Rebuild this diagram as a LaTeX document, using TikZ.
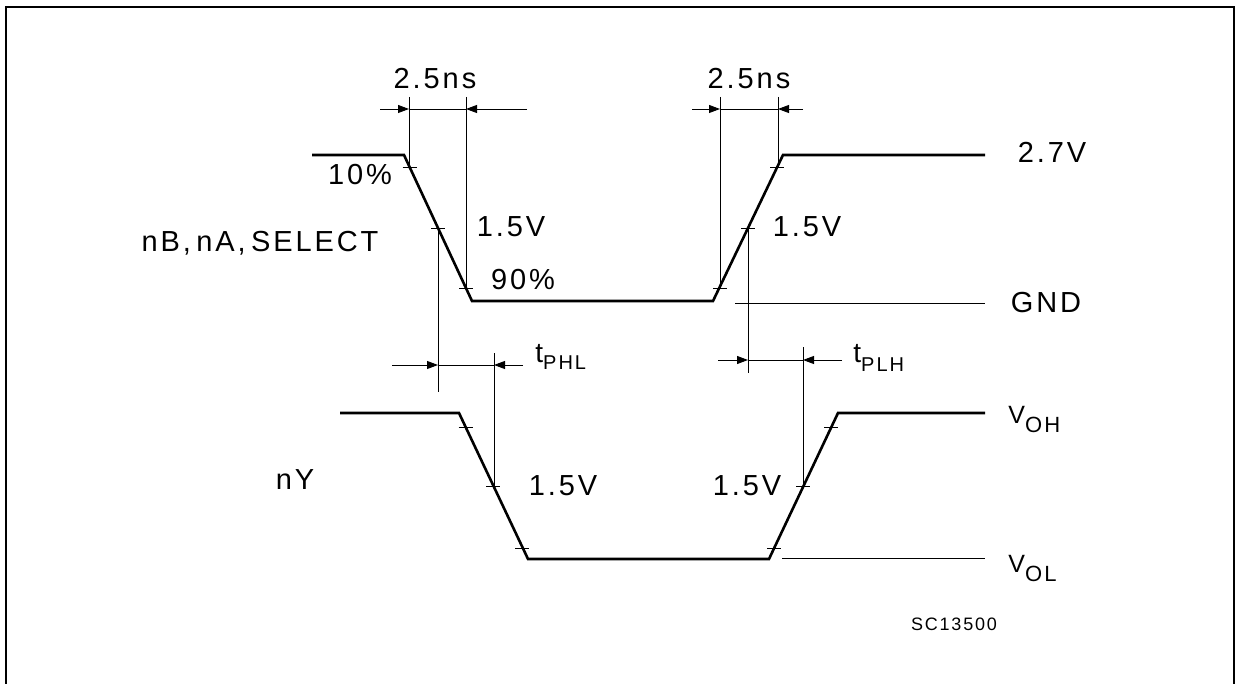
\documentclass[tikz,border=0pt]{standalone}
\usepackage{fontspec}
\setmainfont{Liberation Sans}[LetterSpace=10,WordSpace=0.5]
\usetikzlibrary{arrows.meta}
\begin{document}
\begin{tikzpicture}[x=0.5pt,y=-0.5pt,
    wave/.style={line width=1.3pt,line join=miter},
    thinline/.style={line width=0.45pt},
    dimline/.style={thinline,-{Triangle[length=5.5pt,width=4pt]}},
    lbl/.style={inner sep=0pt,anchor=base,font=\fontsize{14.5}{16}\selectfont},
    sublbl/.style={lbl,anchor=base west,font=\fontsize{14}{16}\selectfont},
    lvllbl/.style={lbl,anchor=base west,font=\fontsize{12.5}{14}\selectfont},
  ]
  \useasboundingbox (0,0) rectangle (1237,684);
  \draw[line width=1pt] (6,700) -- (6,7) -- (1234,7) -- (1234,700);

  % input signal
  \draw[wave] (312,155) -- (404,155) -- (472,301) -- (713,301) -- (783,155) -- (985,155);
  \draw[thinline] (735,303) -- (985,303);
  % output signal
  \draw[wave] (340,413) -- (459,413) -- (528,559) -- (769,559) -- (838,413) -- (985,413);
  \draw[thinline] (782,558) -- (985,558);

  % level marks on the edges
  \foreach \x/\y in {409.6/167, 438/228, 466/288, 720/288, 748/228, 777/167,
                     465.6/427, 493/486, 522/548, 774/548, 803/486, 831/427}
    \draw[thinline] (\x-7,\y) -- (\x+7,\y);

  % extension lines
  \draw[thinline] (409,97) -- (409,167);
  \draw[thinline] (466,97) -- (466,288);
  \draw[thinline] (720,97) -- (720,288);
  \draw[thinline] (778,97) -- (778,167);
  \draw[thinline] (438,228) -- (438,392);
  \draw[thinline] (748,228) -- (748,373);
  \draw[thinline] (494,353) -- (494,486);
  \draw[thinline] (803,347) -- (803,486);

  % dimension arrows
  \draw[thinline] (409,109) -- (466,109);
  \draw[dimline] (380,109) -- (409,109);
  \draw[dimline] (527,109) -- (466,109);
  \draw[thinline] (720,109) -- (778,109);
  \draw[dimline] (692,109) -- (720,109);
  \draw[dimline] (803,109) -- (778,109);
  \draw[thinline] (438,365) -- (494,365);
  \draw[dimline] (392,365) -- (438,365);
  \draw[dimline] (523,365) -- (494,365);
  \draw[thinline] (748,360) -- (803,360);
  \draw[dimline] (718,360) -- (748,360);
  \draw[dimline] (842,360) -- (803,360);

  % labels
  \node[lbl] (rise1) at (435,89) {2.5ns};
  \node[lbl] (rise2) at (749,89) {2.5ns};
  \node[lbl] (pct10) at (360,185) {10\%};
  \node[lbl] (mid1) at (511,237) {1.5V};
  \node[lbl] (pct90) at (523,290) {90\%};
  \node[lbl] (mid2) at (807,237) {1.5V};
  \node[lbl] (insig) at (260,252) {nB, nA, SELECT};
  \node[lbl] (vhigh) at (1052,163) {2.7V};
  \node[lbl] (gnd) at (1046,313) {GND};
  \node[lbl] (outsig) at (295,489) {nY};
  \node[lbl] (mid3) at (563,495) {1.5V};
  \node[lbl] (mid4) at (747,495) {1.5V};
  \node[lbl,font=\fontsize{9}{10}\selectfont] (code) at (954,630) {SC13500};
  \node[sublbl] (tphl) at (535,362) {t\raisebox{-4pt}{\fontsize{10}{12}\selectfont PHL}};
  \node[sublbl] (tplh) at (853,363) {t\raisebox{-4.5pt}{\fontsize{10}{12}\selectfont PLH}};
  \node[lvllbl] (voh) at (1008,423) {V\raisebox{-4.5pt}{\fontsize{11}{12}\selectfont OH}};
  \node[lvllbl] (vol) at (1008,572) {V\raisebox{-4.5pt}{\fontsize{11}{12}\selectfont OL}};
\end{tikzpicture}
\end{document}
